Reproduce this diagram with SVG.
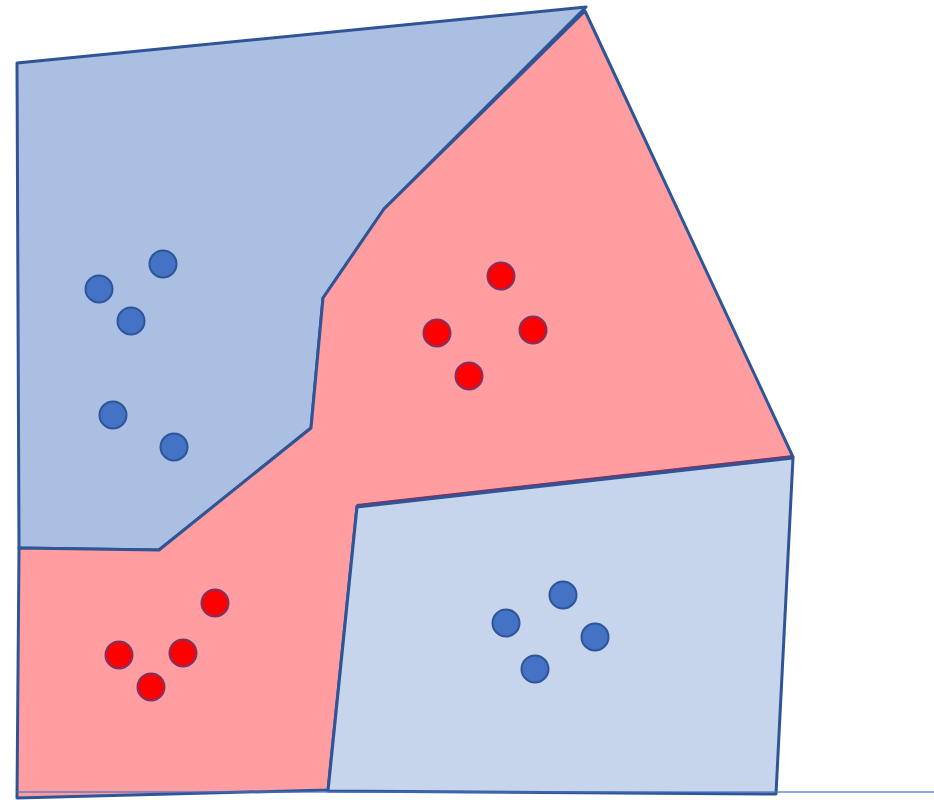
<svg xmlns="http://www.w3.org/2000/svg" width="934" height="800" viewBox="0 0 934 800">
<style>
.edge{stroke:#2f5597;stroke-width:3;stroke-linejoin:round}
.bdot{fill:#4472c4;stroke:#2f5597;stroke-width:2}
.rdot{fill:#ff0000;stroke:#7b3463;stroke-width:2}
</style>
<rect width="934" height="800" fill="#ffffff"/>
<g id="region-blue-top">
<polygon class="edge" fill="#abbfe3" points="17,63 586,7 384,209 323,298 311,428 159,550 19,548"/>
</g>
<g id="region-red">
<polygon class="edge" fill="#ff9da0" points="585,11 793,457 357,506 328,790 17,798 19,548 159,550 311,428 323,298 384,209"/>
<line x1="357" y1="505" x2="793" y2="456" stroke="#7b3463" stroke-width="2"/>
</g>
<g id="region-blue-bottom">
<polygon class="edge" fill="#c6d5ec" points="357,507 793,458 776,794 328,791"/>
</g>
<g id="connectors">
<line x1="17" y1="792" x2="934" y2="792" stroke="#4472c4" stroke-width="1.5" stroke-opacity="0.8"/>
</g>
<g id="blue-points">
<circle class="bdot" cx="163" cy="264" r="13.5"/>
<circle class="bdot" cx="99" cy="289" r="13.5"/>
<circle class="bdot" cx="131" cy="321" r="13.5"/>
<circle class="bdot" cx="113" cy="415" r="13.5"/>
<circle class="bdot" cx="174" cy="447" r="13.5"/>
<circle class="bdot" cx="563" cy="595" r="13.5"/>
<circle class="bdot" cx="506" cy="623" r="13.5"/>
<circle class="bdot" cx="595" cy="637" r="13.5"/>
<circle class="bdot" cx="535" cy="669" r="13.5"/>
</g>
<g id="red-points">
<circle class="rdot" cx="501" cy="276" r="13.5"/>
<circle class="rdot" cx="437" cy="333" r="13.5"/>
<circle class="rdot" cx="533" cy="330" r="13.5"/>
<circle class="rdot" cx="469" cy="376" r="13.5"/>
<circle class="rdot" cx="215" cy="603" r="13.5"/>
<circle class="rdot" cx="119" cy="655" r="13.5"/>
<circle class="rdot" cx="183" cy="653" r="13.5"/>
<circle class="rdot" cx="151" cy="687" r="13.5"/>
</g>
</svg>
